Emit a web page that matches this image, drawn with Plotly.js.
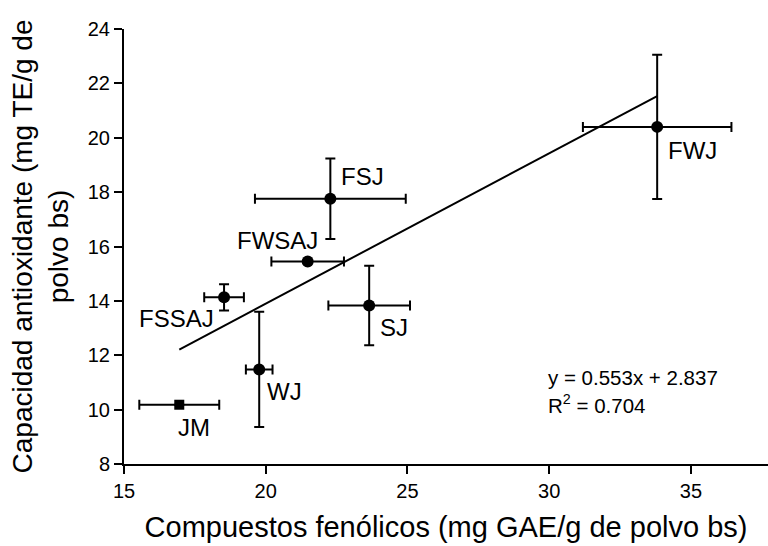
<!DOCTYPE html>
<html>
<head>
<meta charset="utf-8">
<script src="https://cdn.plot.ly/plotly-3.0.1.min.js"></script>
<style>
  html, body { margin: 0; padding: 0; background: #ffffff; }
  #chart { width: 768px; height: 546px; }
</style>
</head>
<body>
<div id="chart"></div>
<script>
// Juice powders: total phenolics vs antioxidant capacity (mean ± SD)
const samples   = ["JM", "FSSAJ", "WJ", "FWSAJ", "FSJ", "SJ", "FWJ"];
const phenolics = [16.95, 18.53, 19.77, 21.48, 22.28, 23.65, 33.81];   // mg GAE/g
const phenolSD  = [1.41, 0.70, 0.47, 1.28, 2.66, 1.44, 2.62];
const antioxid  = [10.18, 14.13, 11.48, 15.45, 17.76, 13.83, 20.40];   // mg TE/g
const antioxSD  = [0, 0.48, 2.12, 0, 1.48, 1.46, 2.65];

// Linear fit reported for the data
const fitSlope = 0.553;
const fitIntercept = 2.837;
const fitR2 = 0.704;

const xTicks = [15, 20, 25, 30, 35];
const yTicks = [8, 10, 12, 14, 16, 18, 20, 22, 24];

// label placement around each point (pixels)
const labelPlacement = {
  JM:    { anchor: "center", dx: 15,  dy: -23 },
  FSSAJ: { anchor: "center", dx: -48, dy: -21 },
  WJ:    { anchor: "left",   dx: 6,   dy: -22 },
  FWSAJ: { anchor: "center", dx: -30, dy: 21 },
  FSJ:   { anchor: "left",   dx: 9,   dy: 22 },
  SJ:    { anchor: "left",   dx: 9,   dy: -22 },
  FWJ:   { anchor: "left",   dx: 9,   dy: -24 }
};

const ink = "#000000";
const font = "Liberation Sans, Arial, Helvetica, sans-serif";

const xMin = Math.min(...phenolics);
const xMax = Math.max(...phenolics);
const fitX = [xMin, xMax];
const fitY = fitX.map(v => fitSlope * v + fitIntercept);

const fitTrace = {
  x: fitX, y: fitY,
  mode: "lines",
  line: { color: ink, width: 2 },
  hoverinfo: "skip",
  showlegend: false
};

const pointTrace = {
  x: phenolics,
  y: antioxid,
  mode: "markers",
  marker: {
    color: ink,
    opacity: 1,
    line: { width: 0 },
    size: samples.map(s => s === "JM" ? 10 : 12),
    symbol: samples.map(s => s === "JM" ? "square" : "circle")
  },
  error_x: { type: "data", array: phenolSD, visible: true, color: ink, thickness: 2, width: 5 },
  error_y: { type: "data", array: antioxSD, visible: true, color: ink, thickness: 2, width: 5 },
  text: samples,
  showlegend: false
};

const annotations = samples.map((s, i) => {
  const p = labelPlacement[s];
  return {
    x: phenolics[i], y: antioxid[i], xref: "x", yref: "y",
    text: s, showarrow: false,
    xanchor: p.anchor, yanchor: "middle",
    xshift: p.dx, yshift: p.dy,
    font: { family: font, size: 24, color: ink }
  };
});

annotations.push({
  x: 29.9, y: 11.2, xref: "x", yref: "y",
  text: "y = " + fitSlope.toFixed(3) + "x + " + fitIntercept.toFixed(3),
  showarrow: false, xanchor: "left", yanchor: "middle",
  font: { family: font, size: 20.5, color: ink }
});
annotations.push({
  x: 29.9, y: 10.2, xref: "x", yref: "y",
  text: "R<sup>2</sup> = " + fitR2.toFixed(3),
  showarrow: false, xanchor: "left", yanchor: "middle",
  font: { family: font, size: 20.5, color: ink }
});

const axisCommon = {
  showgrid: false, zeroline: false,
  showline: true, linecolor: ink, linewidth: 2,
  ticks: "outside", ticklen: 8, tickwidth: 2, tickcolor: ink,
  tickfont: { family: font, size: 20, color: ink }
};

const layout = {
  width: 768, height: 546,
  margin: { l: 124, r: 0, t: 29, b: 82 },
  paper_bgcolor: "#ffffff",
  plot_bgcolor: "#ffffff",
  showlegend: false,
  xaxis: Object.assign({}, axisCommon, {
    range: [15, 37.72],
    tickvals: xTicks, ticktext: xTicks.map(String),
    title: { text: "Compuestos fenólicos (mg GAE/g de polvo bs)",
             font: { family: font, size: 29, color: ink }, standoff: 16 }
  }),
  yaxis: Object.assign({}, axisCommon, {
    range: [8, 24],
    tickvals: yTicks, ticktext: yTicks.map(String),
    title: { text: "Capacidad antioxidante (mg TE/g de<br>polvo bs)",
             font: { family: font, size: 28, color: ink }, standoff: 11 }
  }),
  annotations: annotations
};

Plotly.newPlot("chart", [fitTrace, pointTrace], layout, { staticPlot: true, displayModeBar: false });
</script>
</body>
</html>
